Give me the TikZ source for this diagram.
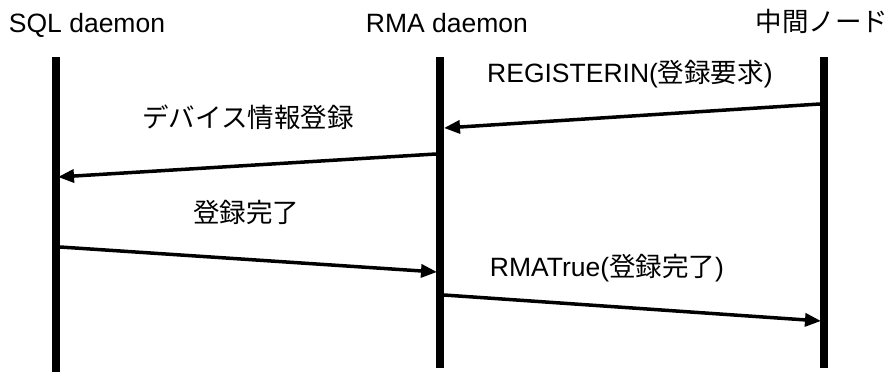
\documentclass[tikz,border=0pt]{standalone}
\usepackage{fontspec}
\setmainfont{Liberation Sans}
\newfontfamily\jp{Noto Sans CJK JP}
\usetikzlibrary{arrows.meta}
\begin{document}
\begin{tikzpicture}[x=1pt,y=-1pt,
  lifeline/.style={line width=8pt},
  msg/.style={line width=3.5pt,-{Triangle[length=16pt,width=13pt]}},
  lbl/.style={font=\fontsize{26.5}{30}\selectfont, inner sep=0pt, anchor=base}]
\useasboundingbox (0,0) rectangle (895,374);
% headers
\node[lbl] (sql) at (87,33) {SQL daemon};
\node[lbl] (rma) at (447,33) {RMA daemon};
\node[lbl] (mid) at (822,32) {\jp 中間ノード};
% lifelines
\coordinate (sqlT) at (56,57);  \coordinate (sqlB) at (56,372);
\coordinate (rmaT) at (440,57); \coordinate (rmaB) at (440,368);
\coordinate (midT) at (824,57); \coordinate (midB) at (824,368);
\draw[lifeline] (sqlT) -- (sqlB);
\draw[lifeline] (rmaT) -- (rmaB);
\draw[lifeline] (midT) -- (midB);
% message end points
\coordinate (a1s) at (820,104); \coordinate (a1e) at (444,128);
\coordinate (a2s) at (436,154); \coordinate (a2e) at (58,177);
\coordinate (a3s) at (60,247);  \coordinate (a3e) at (437,272);
\coordinate (a4s) at (444,295); \coordinate (a4e) at (821,321);
\draw[msg] (a1s) -- (a1e);
\draw[msg] (a2s) -- (a2e);
\draw[msg] (a3s) -- (a3e);
\draw[msg] (a4s) -- (a4e);
% labels
\node[lbl] (l1) at (630,83) {REGISTERIN({\jp 登録要求})};
\node[lbl] (l2) at (248,128) {\jp デバイス情報登録};
\node[lbl] (l3) at (246,223) {\jp 登録完了};
\node[lbl] (l4) at (607,277) {RMATrue({\jp 登録完了})};
\end{tikzpicture}
\end{document}
